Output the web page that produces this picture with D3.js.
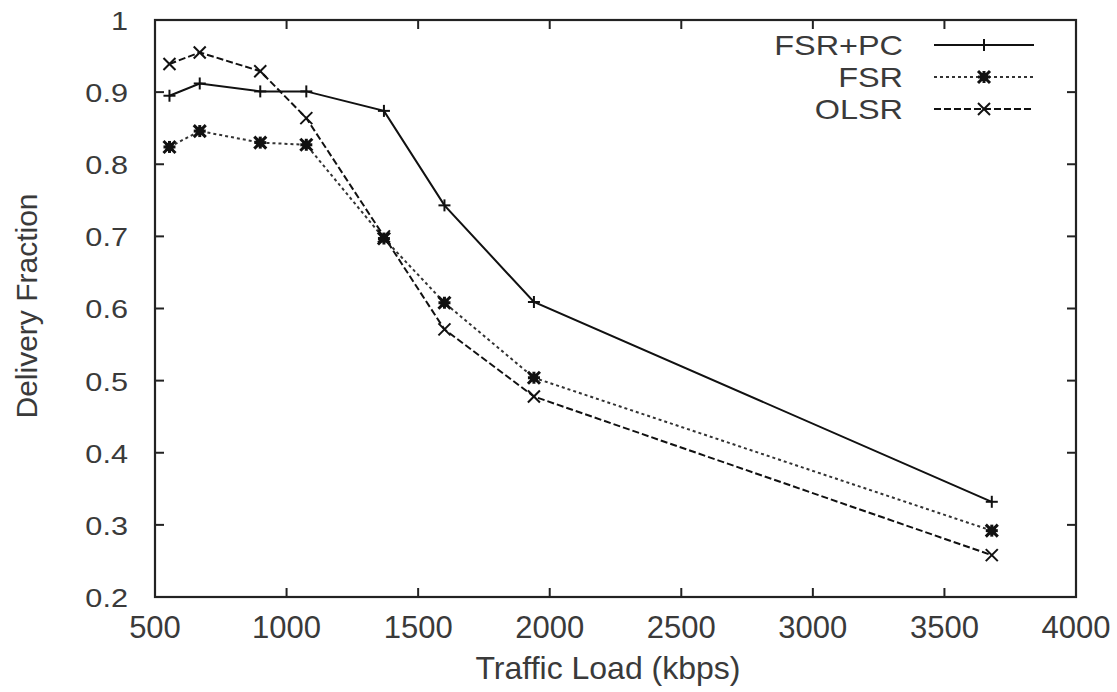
<!DOCTYPE html>
<html>
<head>
<meta charset="utf-8">
<script src="https://cdn.jsdelivr.net/npm/d3@7"></script>
<style>
  body { margin: 0; background: #fff; }
  text { font-family: "Liberation Sans", Arial, sans-serif; fill: #3a3a3a; }
</style>
</head>
<body>
<script>
// traffic load (kbps) vs delivery fraction
const loads = [555, 670, 900, 1075, 1370, 1600, 1940, 3680];
const fsrPc = [0.895, 0.912, 0.901, 0.901, 0.874, 0.743, 0.609, 0.332];
const fsr   = [0.824, 0.846, 0.830, 0.827, 0.697, 0.608, 0.504, 0.292];
const olsr  = [0.939, 0.955, 0.929, 0.864, 0.700, 0.571, 0.478, 0.258];

const xTicks = [500, 1000, 1500, 2000, 2500, 3000, 3500, 4000];
const yTicks = [0.2, 0.3, 0.4, 0.5, 0.6, 0.7, 0.8, 0.9, 1];

const series = [
  { name: "FSR+PC", values: fsrPc, dash: null,  color: "#111", marker: "plus" },
  { name: "FSR",    values: fsr,   dash: "3,3", color: "#333", marker: "star" },
  { name: "OLSR",   values: olsr,  dash: "7,3", color: "#111", marker: "cross" }
];

const width = 1117, height = 692;
const margin = { left: 155, right: 41, top: 20, bottom: 95 };

const svg = d3.select("body").append("svg")
  .attr("width", width)
  .attr("height", height);

const x = d3.scaleLinear().domain([500, 4000]).range([margin.left, width - margin.right]);
const y = d3.scaleLinear().domain([0.2, 1]).range([height - margin.bottom, margin.top]);

const tickLen = 9;

// frame + mirrored ticks
const frame = svg.append("g");
xTicks.forEach(t => {
  frame.append("line").attr("x1", x(t)).attr("x2", x(t))
    .attr("y1", y(0.2)).attr("y2", y(0.2) - tickLen)
    .attr("stroke", "#222").attr("stroke-width", 2);
  frame.append("line").attr("x1", x(t)).attr("x2", x(t))
    .attr("y1", y(1)).attr("y2", y(1) + tickLen)
    .attr("stroke", "#222").attr("stroke-width", 2);
  svg.append("text").attr("x", x(t)).attr("y", 638)
    .attr("text-anchor", "middle").style("font-size", "31px")
    .text(t);
});
yTicks.forEach(t => {
  frame.append("line").attr("x1", x(500)).attr("x2", x(500) + tickLen)
    .attr("y1", y(t)).attr("y2", y(t))
    .attr("stroke", "#222").attr("stroke-width", 2);
  frame.append("line").attr("x1", x(4000)).attr("x2", x(4000) - tickLen)
    .attr("y1", y(t)).attr("y2", y(t))
    .attr("stroke", "#222").attr("stroke-width", 2);
  // labels in this figure are a bit wide for their height
  svg.append("text")
    .attr("transform", `translate(${x(500) - 27},${y(t)}) scale(1.18,1)`)
    .attr("dy", "0.38em")
    .attr("text-anchor", "end").style("font-size", "26px")
    .text(d3.format("~g")(t));
});
frame.append("rect")
  .attr("x", x(500)).attr("y", y(1))
  .attr("width", x(4000) - x(500)).attr("height", y(0.2) - y(1))
  .attr("fill", "none").attr("stroke", "#222").attr("stroke-width", 2.2);

// axis titles
svg.append("text")
  .attr("x", 608).attr("y", 679)
  .attr("text-anchor", "middle").style("font-size", "32px")
  .text("Traffic Load (kbps)");
svg.append("text")
  .attr("transform", "translate(37,306) rotate(-90)")
  .attr("text-anchor", "middle").style("font-size", "30px")
  .text("Delivery Fraction");

function drawMarker(g, type, cx, cy, color) {
  const s = 6;
  const w = type === "star" ? 3 : 2;
  const seg = (x1, y1, x2, y2) => g.append("line")
    .attr("x1", x1).attr("y1", y1).attr("x2", x2).attr("y2", y2)
    .attr("stroke", color).attr("stroke-width", w);
  if (type === "plus" || type === "star") {
    seg(cx - s, cy, cx + s, cy);
    seg(cx, cy - s, cx, cy + s);
  }
  if (type === "cross" || type === "star") {
    seg(cx - s, cy - s, cx + s, cy + s);
    seg(cx - s, cy + s, cx + s, cy - s);
  }
  if (type === "star") {
    g.append("rect").attr("x", cx - 4).attr("y", cy - 4)
      .attr("width", 8).attr("height", 8).attr("fill", "#111");
  }
}

const line = d3.line().x(d => x(d[0])).y(d => y(d[1]));

series.forEach(s => {
  const pts = loads.map((l, i) => [l, s.values[i]]);
  const g = svg.append("g");
  g.append("path").datum(pts)
    .attr("d", line)
    .attr("fill", "none")
    .attr("stroke", s.color)
    .attr("stroke-width", 2)
    .attr("stroke-dasharray", s.dash);
  pts.forEach(p => drawMarker(g, s.marker, x(p[0]), y(p[1]), "#111"));
});

// legend
const legY0 = 45, legStep = 32;
series.forEach((s, i) => {
  const ly = legY0 + i * legStep;
  svg.append("text")
    .attr("transform", `translate(903,${ly}) scale(1.2,1)`)
    .attr("dy", "0.36em")
    .attr("text-anchor", "end").style("font-size", "27px")
    .text(s.name);
  const g = svg.append("g");
  g.append("line").attr("x1", 934).attr("x2", 1034)
    .attr("y1", ly).attr("y2", ly)
    .attr("stroke", s.color).attr("stroke-width", 2)
    .attr("stroke-dasharray", s.dash);
  drawMarker(g, s.marker, 984, ly, "#111");
});
</script>
</body>
</html>
